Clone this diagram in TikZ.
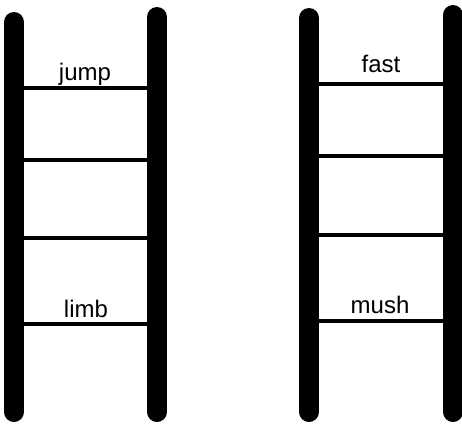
\documentclass[tikz,border=0pt]{standalone}
\usepackage{fontspec}
\setmainfont{Liberation Sans}
\usetikzlibrary{positioning}
\usetikzlibrary{calc}

\begin{document}
\begin{tikzpicture}[x=1pt, y=1pt,
    rail/.style={line width=20pt, line cap=round},
    rung/.style={line width=4.5pt},
    word/.style={anchor=base, inner sep=0pt, font=\fontsize{24}{24}\selectfont}]
        \useasboundingbox (0,0) rectangle (462,424);

        % left ladder
        \coordinate (la) at (14, 402);
        \coordinate (lb) at (14, 12);
        \coordinate (ra) at (157, 407);
        \coordinate (rb) at (157, 12);
        \draw[rail] (la) -- (lb);
        \draw[rail] (ra) -- (rb);
        \foreach \y in {336, 264, 186, 100}
            \draw[rung] (la |- 0,\y) -- (ra |- 0,\y);
        \node[word] (jump) at (85, 344) {jump};
        \node[word] (limb) at (86, 107) {limb};

        % right ladder
        \coordinate (lc) at (309, 406);
        \coordinate (ld) at (309, 12);
        \coordinate (rc) at (453, 409);
        \coordinate (rd) at (453, 12);
        \draw[rail] (lc) -- (ld);
        \draw[rail] (rc) -- (rd);
        \foreach \y in {340, 268, 189, 103}
            \draw[rung] (lc |- 0,\y) -- (rc |- 0,\y);
        \node[word] (fast) at (381, 352) {fast};
        \node[word] (mush) at (380, 111) {mush};
    \end{tikzpicture}
\end{document}
